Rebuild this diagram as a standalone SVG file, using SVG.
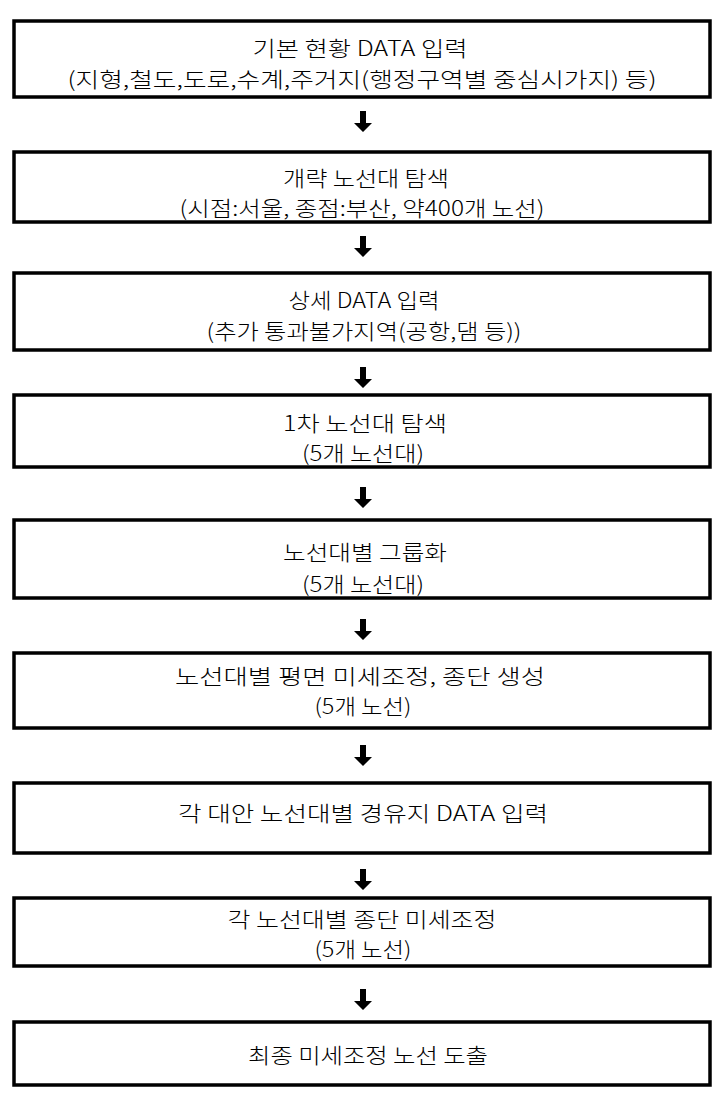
<svg xmlns="http://www.w3.org/2000/svg" xmlns:xlink="http://www.w3.org/1999/xlink" width="723" height="1093" viewBox="0 0 723 1093">
<style>
.box{fill:#fff;stroke:#000;stroke-width:3.5}
.t{font-family:"Noto Sans CJK KR","Noto Sans",sans-serif;font-size:21px;font-weight:300;fill:#000;text-anchor:middle;dominant-baseline:central}
.arr{fill:#000}
</style>
<defs>
<path id="arr" class="arr" d="M-3,0 H3 V12 H9 L0,21 L-9,12 H-3 Z"/>
</defs>
<rect width="723" height="1093" fill="#fff"/>
<g id="connectors">
<use xlink:href="#arr" x="363" y="111"/>
<use xlink:href="#arr" x="363" y="236"/>
<use xlink:href="#arr" x="363" y="367"/>
<use xlink:href="#arr" x="363" y="487"/>
<use xlink:href="#arr" x="363" y="619"/>
<use xlink:href="#arr" x="363" y="745"/>
<use xlink:href="#arr" x="363" y="869"/>
<use xlink:href="#arr" x="363" y="989"/>
</g>
<g id="n1"><rect class="box" x="14" y="21" width="696" height="76"/>
<text class="t" x="360" y="47" textLength="215" lengthAdjust="spacingAndGlyphs">기본 현황 DATA 입력</text>
<text class="t" x="362" y="78" textLength="589" lengthAdjust="spacingAndGlyphs">(지형,철도,도로,수계,주거지(행정구역별 중심시가지) 등)</text></g>
<g id="n2"><rect class="box" x="14" y="152" width="696" height="70"/>
<text class="t" x="366" y="177" textLength="166" lengthAdjust="spacingAndGlyphs">개략 노선대 탐색</text>
<text class="t" x="362" y="207" textLength="365" lengthAdjust="spacingAndGlyphs">(시점:서울, 종점:부산, 약400개 노선)</text></g>
<g id="n3"><rect class="box" x="14" y="273" width="696" height="77"/>
<text class="t" x="364" y="299" textLength="151" lengthAdjust="spacingAndGlyphs">상세 DATA 입력</text>
<text class="t" x="364" y="330" textLength="315" lengthAdjust="spacingAndGlyphs">(추가 통과불가지역(공항,댐 등))</text></g>
<g id="n4"><rect class="box" x="14" y="395" width="696" height="72"/>
<text class="t" x="365" y="422" textLength="164" lengthAdjust="spacingAndGlyphs">1차 노선대 탐색</text>
<text class="t" x="363" y="452" textLength="122" lengthAdjust="spacingAndGlyphs">(5개 노선대)</text></g>
<g id="n5"><rect class="box" x="14" y="520" width="696" height="78"/>
<text class="t" x="365" y="551" textLength="164" lengthAdjust="spacingAndGlyphs">노선대별 그룹화</text>
<text class="t" x="363" y="583" textLength="122" lengthAdjust="spacingAndGlyphs">(5개 노선대)</text></g>
<g id="n6"><rect class="box" x="14" y="653" width="696" height="75"/>
<text class="t" x="360" y="675" textLength="370" lengthAdjust="spacingAndGlyphs">노선대별 평면 미세조정, 종단 생성</text>
<text class="t" x="363" y="705" textLength="97" lengthAdjust="spacingAndGlyphs">(5개 노선)</text></g>
<g id="n7"><rect class="box" x="14" y="783" width="696" height="70"/>
<text class="t" x="363" y="812" textLength="370" lengthAdjust="spacingAndGlyphs">각 대안 노선대별 경유지 DATA 입력</text></g>
<g id="n8"><rect class="box" x="14" y="898" width="696" height="68"/>
<text class="t" x="362" y="918" textLength="269" lengthAdjust="spacingAndGlyphs">각 노선대별 종단 미세조정</text>
<text class="t" x="363" y="948" textLength="97" lengthAdjust="spacingAndGlyphs">(5개 노선)</text></g>
<g id="n9"><rect class="box" x="14" y="1022" width="696" height="63"/>
<text class="t" x="368" y="1054" textLength="240" lengthAdjust="spacingAndGlyphs">최종 미세조정 노선 도출</text></g>
</svg>
